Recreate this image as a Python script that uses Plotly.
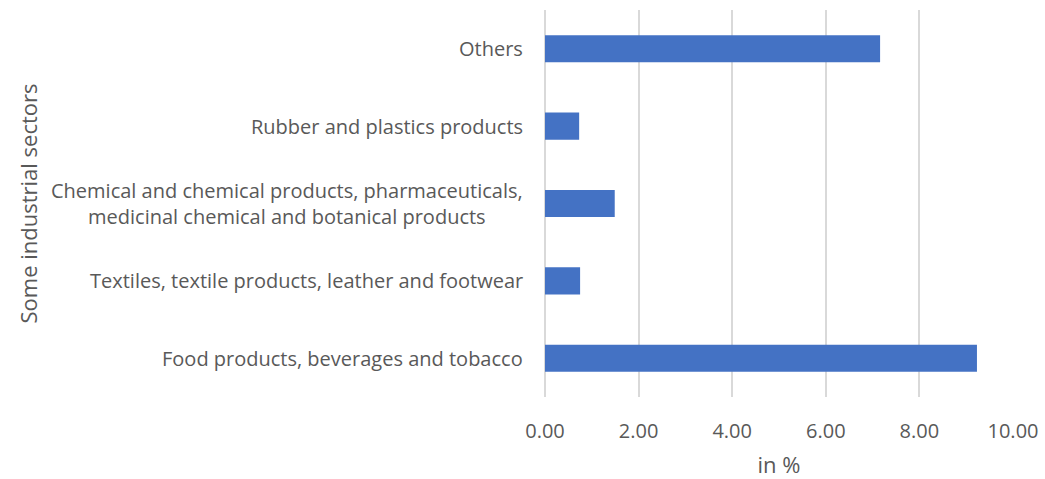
import plotly.graph_objects as go

categories = [
    "Food products, beverages and tobacco",
    "Textiles, textile products, leather and footwear",
    "Chemical and chemical products, pharmaceuticals,<br>medicinal chemical and botanical products",
    "Rubber and plastics products",
    "Others",
]
values = [9.23, 0.75, 1.49, 0.73, 7.16]
x_ticks = [0, 2, 4, 6, 8, 10]
x_tick_labels = ["0.00", "2.00", "4.00", "6.00", "8.00", "10.00"]

FONT = "Open Sans"
TXT = "#595959"

fig = go.Figure(go.Bar(
    y=categories, x=values, orientation="h",
    marker=dict(color="#4472C4", line=dict(width=0)),
))

for c in categories:
    fig.add_annotation(
        x=0, xref="paper", y=c, yref="y", text=c,
        xanchor="right", yanchor="middle", align="center", xshift=-20,
        showarrow=False, font=dict(family=FONT, size=20, color=TXT),
    )

fig.add_annotation(
    x=0, xref="paper", xshift=-518, y=0.5, yref="paper", text="Some industrial sectors",
    textangle=-90, xanchor="center", yanchor="middle", showarrow=False,
    font=dict(family=FONT, size=22, color=TXT),
)

fig.update_layout(
    width=1045, height=479,
    margin=dict(l=545, r=32, t=10, b=82, autoexpand=False),
    plot_bgcolor="white", paper_bgcolor="white",
    bargap=0.65, showlegend=False,
    font=dict(family=FONT, size=20, color=TXT),
    xaxis=dict(
        range=[0, 10], tickvals=x_ticks, ticktext=x_tick_labels,
        showgrid=True, gridcolor="#d9d9d9", gridwidth=1.5,
        zeroline=True, zerolinecolor="#d9d9d9", zerolinewidth=1.5,
        showline=False, ticks="", automargin=False,
        ticklabelstandoff=20,
        tickfont=dict(size=20, color=TXT),
        title=dict(text="in %", standoff=18, font=dict(size=22, color=TXT)),
    ),
    yaxis=dict(
        categoryorder="array", categoryarray=categories,
        showticklabels=False, showgrid=False, zeroline=False, showline=False,
        ticks="", automargin=False,
    ),
)

fig.write_html("out.html")
